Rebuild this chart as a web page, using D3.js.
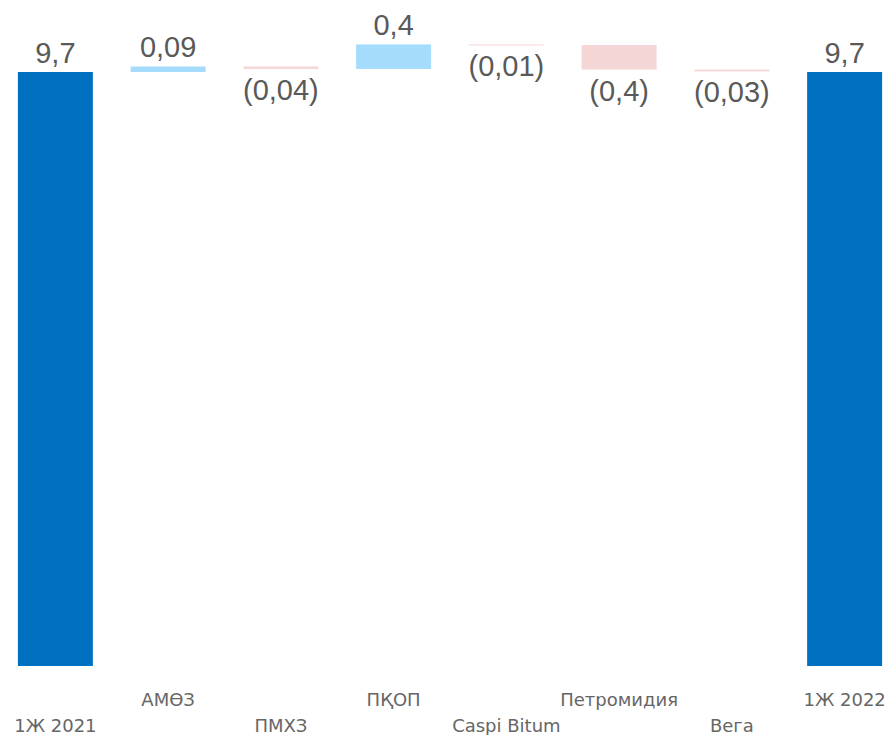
<!DOCTYPE html>
<html><head><meta charset="utf-8">
<script src="https://cdn.jsdelivr.net/npm/d3@7"></script>
<style>html,body{margin:0;padding:0;background:#fff;}</style>
</head><body>
<svg id="c" width="891" height="735"></svg>
<script>
const categories = ["1Ж 2021","АМӨЗ","ПМХЗ","ПҚОП","Caspi Bitum","Петромидия","Вега","1Ж 2022"];
const values = [9.7, 0.09, -0.04, 0.4, -0.01, -0.4, -0.03, 9.7];
const isTotal = [true, false, false, false, false, false, false, true];
const valueLabels = ["9,7","0,09","(0,04)","0,4","(0,01)","(0,4)","(0,03)","9,7"];

const svg = d3.select("#c");
const x = d3.scaleBand().domain(categories).range([-1, 901]).paddingInner(0.335).paddingOuter(0.1675);
const y = d3.scaleLinear().domain([0, 9.7]).range([666, 72]);

let run = 0;
const bars = categories.map((c, i) => {
  let y0, y1;
  if (isTotal[i]) { y0 = 0; y1 = values[i]; run = values[i]; }
  else { y0 = run; y1 = run + values[i]; run = y1; }
  return {c, v: values[i], lo: Math.min(y0, y1), hi: Math.max(y0, y1), total: isTotal[i], label: valueLabels[i], i};
});
const color = d => d.total ? "#0070C0" : (d.v >= 0 ? "#A5DCFB" : "#F5D6D7");

svg.selectAll("rect.bar").data(bars).enter().append("rect")
  .attr("class","bar")
  .attr("x", d => x(d.c)).attr("width", x.bandwidth())
  .attr("y", d => y(d.hi))
  .attr("height", d => Math.max(1, y(d.lo) - y(d.hi)))
  .attr("fill", color);

svg.selectAll("text.val").data(bars).enter().append("text")
  .attr("class","val")
  .attr("x", d => x(d.c) + x.bandwidth()/2)
  .attr("y", d => d.v >= 0 ? y(d.hi) - 9 : y(d.lo) + 31)
  .attr("text-anchor","middle")
  .attr("font-family","'Liberation Sans', Arial, sans-serif")
  .attr("font-size", 29)
  .attr("fill","#595959")
  .text(d => d.label);

svg.selectAll("text.cat").data(categories).enter().append("text")
  .attr("class","cat")
  .attr("x", d => x(d) + x.bandwidth()/2)
  .attr("y", (d, i) => i % 2 === 1 ? 706 : 732)
  .attr("text-anchor","middle")
  .attr("font-family","'DejaVu Sans', Verdana, sans-serif")
  .attr("font-size", 18)
  .attr("fill","#666666")
  .text(d => d);
</script>
</body></html>
